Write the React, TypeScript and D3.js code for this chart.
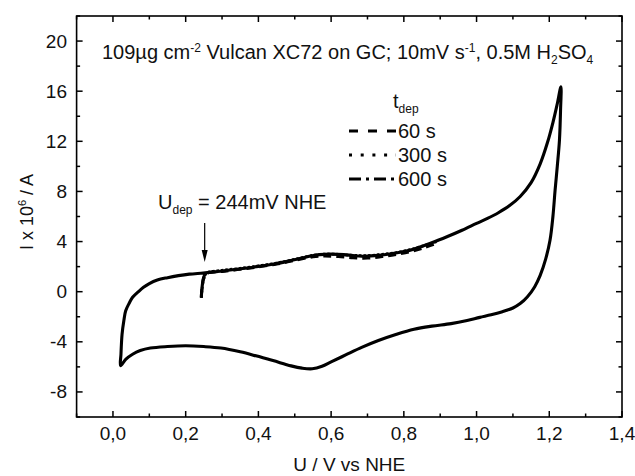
import React from "react";
import * as d3 from "d3";

const W = 635;
const H = 476;

// Full cyclic voltammogram (t_dep = 600 s): start at U_dep, anodic sweep, cathodic sweep, return
const cvU = [
  0.243, 0.244, 0.246, 0.249, 0.255,
  0.27, 0.3, 0.345, 0.4, 0.442, 0.48, 0.509, 0.54, 0.568, 0.6, 0.635, 0.66, 0.684, 0.72, 0.761,
  0.8, 0.829, 0.877, 0.92, 0.96, 1.0, 1.03, 1.06, 1.09, 1.12, 1.15, 1.175, 1.195, 1.21, 1.222, 1.232,
  1.231, 1.228, 1.222, 1.216, 1.21, 1.202, 1.19, 1.175, 1.16, 1.14, 1.12, 1.1, 1.071, 1.04, 1.009,
  0.974, 0.93, 0.877, 0.828, 0.78, 0.73, 0.684, 0.64, 0.6, 0.575, 0.548, 0.52, 0.49, 0.44, 0.393,
  0.35, 0.297, 0.25, 0.2, 0.15, 0.103, 0.075, 0.054, 0.035, 0.021,
  0.022, 0.025, 0.03, 0.035, 0.045, 0.054, 0.07, 0.084, 0.1, 0.122, 0.15, 0.18, 0.21, 0.248, 0.28, 0.3,
];
const cvI = [
  -0.48, 0.0, 0.6, 1.1, 1.45,
  1.55, 1.65, 1.81, 2.02, 2.21, 2.42, 2.61, 2.82, 2.96, 3.0, 2.96, 2.88, 2.83, 2.88, 3.01,
  3.2, 3.41, 3.9, 4.4, 4.9, 5.45, 5.85, 6.3, 6.85, 7.6, 8.7, 10.2, 11.9, 13.5, 15.0, 16.35,
  14.5, 12.1, 10.0, 8.1, 6.0, 4.1, 2.6, 1.3, 0.4, -0.4, -0.95, -1.3, -1.6, -1.85, -2.05,
  -2.3, -2.55, -2.75, -3.0, -3.4, -3.9, -4.45, -5.05, -5.6, -5.95, -6.15, -6.1, -5.92, -5.5, -5.12,
  -4.8, -4.5, -4.38, -4.32, -4.38, -4.5, -4.7, -4.99, -5.4, -5.9,
  -5.0, -3.4, -2.3, -1.52, -0.9, -0.45, 0.0, 0.35, 0.65, 0.93, 1.12, 1.28, 1.4, 1.49, 1.58, 1.65,
];

// Partial anodic sweeps after shorter deposition times
const t60U = [0.243, 0.245, 0.25, 0.258, 0.3, 0.35, 0.4, 0.45, 0.5, 0.55, 0.58, 0.62, 0.66, 0.7, 0.74, 0.78, 0.82, 0.86, 0.89];
const t60I = [-0.45, 0.3, 1.1, 1.45, 1.62, 1.78, 1.98, 2.2, 2.5, 2.78, 2.85, 2.8, 2.7, 2.68, 2.8, 2.98, 3.2, 3.55, 3.85];
const t300U = [0.243, 0.245, 0.25, 0.258, 0.3, 0.35, 0.4, 0.45, 0.5, 0.55, 0.58, 0.62, 0.66, 0.7, 0.74, 0.78, 0.82, 0.86, 0.89];
const t300I = [-0.5, 0.2, 1.05, 1.5, 1.7, 1.86, 2.06, 2.28, 2.58, 2.9, 3.0, 2.98, 2.9, 2.88, 2.98, 3.12, 3.38, 3.72, 4.0];

const xMajor = [0, 0.2, 0.4, 0.6, 0.8, 1.0, 1.2, 1.4];
const xLabels = ["0,0", "0,2", "0,4", "0,6", "0,8", "1,0", "1,2", "1,4"];
const xMinor = [-0.1, 0.1, 0.3, 0.5, 0.7, 0.9, 1.1, 1.3];
const yMajor = [-8, -4, 0, 4, 8, 12, 16, 20];
const yMinor = [-10, -6, -2, 2, 6, 10, 14, 18, 22];

const legendNames = ["60 s", "300 s", "600 s"];
const U_DEP = 0.244;

const FONT = "'Liberation Sans', Arial, Helvetica, sans-serif";

export default function App() {
  const left = 76.6, right = 622, top = 16, bottom = 417;
  const x = d3.scaleLinear().domain([-0.1, 1.4]).range([left, right]);
  const y = d3.scaleLinear().domain([-10, 22]).range([bottom, top]);

  const line = d3
    .line<[number, number]>()
    .x((d) => x(d[0]))
    .y((d) => y(d[1]))
    .curve(d3.curveCatmullRom.alpha(0.5));

  const cv = line(cvU.map((u, i) => [u, cvI[i]]) as [number, number][]) || "";
  const c60 = line(t60U.map((u, i) => [u, t60I[i]]) as [number, number][]) || "";
  const c300 = line(t300U.map((u, i) => [u, t300I[i]]) as [number, number][]) || "";

  const majLen = 6;
  const minLen = 3.5;

  const legendDash = ["9,10", "3,8.7", "12,5,3,5"];
  const legendX0 = 349;
  const legendX1 = 396;
  const legendY = [131, 155, 179];

  const arrowX = x(U_DEP) + 3;

  return (
    <svg
      width={W}
      height={H}
      style={{ position: "absolute", left: 0, top: 0, background: "#fff" }}
      fontFamily={FONT}
    >
      <rect x={0} y={0} width={W} height={H} fill="#fff" />

      {/* curves */}
      <path d={c300} fill="none" stroke="#000" strokeWidth={2.8} strokeDasharray="2.5,2" />
      <path d={c60} fill="none" stroke="#000" strokeWidth={3} strokeDasharray="8,5" />
      <path d={cv} fill="none" stroke="#000" strokeWidth={3.1} strokeLinejoin="round" />

      {/* frame */}
      <rect x={left} y={top} width={right - left} height={bottom - top} fill="none" stroke="#000" strokeWidth={1.6} />

      {/* ticks */}
      {xMajor.map((v) => (
        <g key={"xm" + v}>
          <line x1={x(v)} x2={x(v)} y1={bottom} y2={bottom - majLen} stroke="#000" strokeWidth={1.5} />
          <line x1={x(v)} x2={x(v)} y1={top} y2={top + majLen} stroke="#000" strokeWidth={1.5} />
        </g>
      ))}
      {xMinor.map((v) => (
        <g key={"xn" + v}>
          <line x1={x(v)} x2={x(v)} y1={bottom} y2={bottom - minLen} stroke="#000" strokeWidth={1.5} />
          <line x1={x(v)} x2={x(v)} y1={top} y2={top + minLen} stroke="#000" strokeWidth={1.5} />
        </g>
      ))}
      {yMajor.map((v) => (
        <g key={"ym" + v}>
          <line x1={left} x2={left + majLen} y1={y(v)} y2={y(v)} stroke="#000" strokeWidth={1.5} />
          <line x1={right} x2={right - majLen} y1={y(v)} y2={y(v)} stroke="#000" strokeWidth={1.5} />
        </g>
      ))}
      {yMinor.map((v) => (
        <g key={"yn" + v}>
          <line x1={left} x2={left + minLen} y1={y(v)} y2={y(v)} stroke="#000" strokeWidth={1.5} />
          <line x1={right} x2={right - minLen} y1={y(v)} y2={y(v)} stroke="#000" strokeWidth={1.5} />
        </g>
      ))}

      {/* tick labels */}
      {xMajor.map((v, i) => (
        <text key={"xl" + v} x={x(v)} y={440} textAnchor="middle" fontSize={19} fill="#111">
          {xLabels[i]}
        </text>
      ))}
      {yMajor.map((v) => (
        <text key={"yl" + v} x={67} y={y(v) + 6.5} textAnchor="end" fontSize={19} fill="#111">
          {String(v)}
        </text>
      ))}

      {/* axis titles */}
      <text x={(left + right) / 2} y={471} textAnchor="middle" fontSize={19} fill="#111">
        U / V vs NHE
      </text>
      <text transform="translate(33,212) rotate(-90)" textAnchor="middle" fontSize={18} fill="#111">
        I x 10
        <tspan dy={-7} fontSize={11}>6</tspan>
        <tspan dy={7}> / A</tspan>
      </text>

      {/* title */}
      <text x={102} y={59} fontSize={20} fill="#111">
        109µg cm
        <tspan dy={-7} fontSize={12}>-2</tspan>
        <tspan dy={7}> Vulcan XC72 on GC; 10mV s</tspan>
        <tspan dy={-7} fontSize={12}>-1</tspan>
        <tspan dy={7}>, 0.5M H</tspan>
        <tspan dy={5} fontSize={12}>2</tspan>
        <tspan dy={-5}>SO</tspan>
        <tspan dy={5} fontSize={12}>4</tspan>
      </text>

      {/* legend */}
      <text x={393} y={108} fontSize={20} fill="#111">
        t<tspan dy={5} fontSize={12}>dep</tspan>
      </text>
      {legendNames.map((n, i) => (
        <g key={n}>
          <line
            x1={legendX0}
            x2={legendX1}
            y1={legendY[i]}
            y2={legendY[i]}
            stroke="#000"
            strokeWidth={3}
            strokeDasharray={legendDash[i]}
          />
          <text x={398} y={legendY[i] + 7} fontSize={20} fill="#111">
            {n}
          </text>
        </g>
      ))}

      {/* deposition potential annotation */}
      <text x={158} y={209} fontSize={20} fill="#111">
        U<tspan dy={5} fontSize={12}>dep</tspan>
        <tspan dy={-5}> = 244mV NHE</tspan>
      </text>
      <line x1={arrowX} x2={arrowX} y1={223} y2={252} stroke="#000" strokeWidth={1.2} />
      <path d={`M${arrowX - 3},${250} L${arrowX + 3},${250} L${arrowX},${262} Z`} fill="#000" />
    </svg>
  );
}
